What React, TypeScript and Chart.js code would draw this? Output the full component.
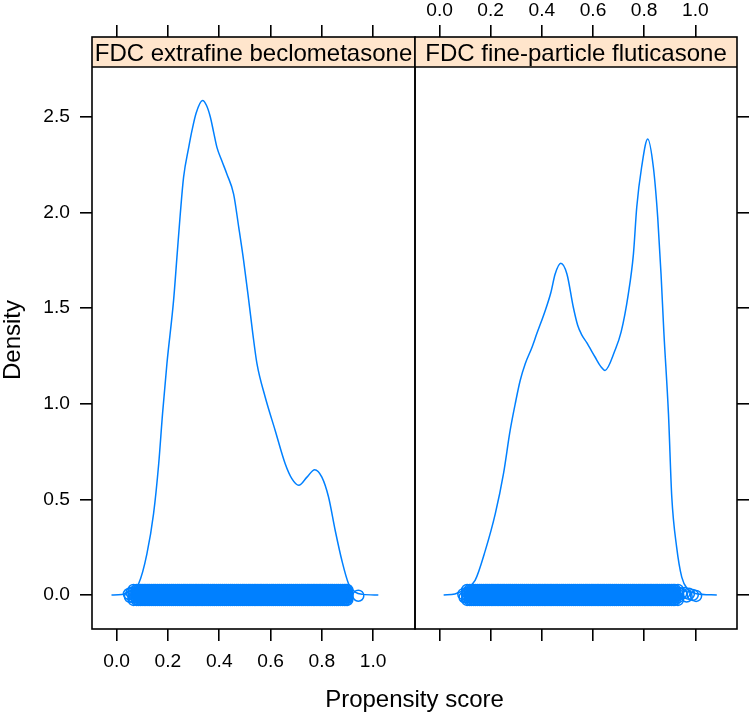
import React, { useEffect, useRef } from 'react';
import { Chart, registerables } from 'chart.js';

Chart.register(...registerables);

// ---------- data ----------
const panelTitles = ['FDC extrafine beclometasone', 'FDC fine-particle fluticasone'];
const xTickValues = [0, 0.2, 0.4, 0.6, 0.8, 1.0];
const yTickValues = [0, 0.5, 1.0, 1.5, 2.0, 2.5];
const xAxisTitle = 'Propensity score';
const yAxisTitle = 'Density';

// density curve, FDC extrafine beclometasone
const becloDensX = [-0.02, 0.02, 0.05, 0.086, 0.118, 0.144, 0.164, 0.179, 0.196, 0.222, 0.235, 0.248, 0.261, 0.281, 0.294, 0.31, 0.335, 0.35, 0.365, 0.378, 0.391, 0.41, 0.43, 0.456, 0.476, 0.495, 0.515, 0.531, 0.547, 0.579, 0.618, 0.657, 0.683, 0.71, 0.742, 0.772, 0.8, 0.826, 0.852, 0.878, 0.904, 0.93, 0.96, 1.02];
const becloDensY = [0.0, 0.002, 0.02, 0.06, 0.215, 0.425, 0.686, 0.948, 1.209, 1.54, 1.765, 1.99, 2.184, 2.34, 2.43, 2.52, 2.585, 2.56, 2.5, 2.42, 2.34, 2.27, 2.2, 2.096, 1.922, 1.748, 1.539, 1.364, 1.209, 1.035, 0.86, 0.686, 0.608, 0.573, 0.616, 0.655, 0.616, 0.512, 0.337, 0.18, 0.059, 0.015, 0.003, 0.0];

// density curve, FDC fine-particle fluticasone
const flutiDensX = [0.016, 0.06, 0.1, 0.139, 0.179, 0.218, 0.25, 0.276, 0.296, 0.315, 0.335, 0.36, 0.38, 0.413, 0.435, 0.452, 0.474, 0.498, 0.523, 0.54, 0.556, 0.575, 0.608, 0.63, 0.647, 0.686, 0.71, 0.738, 0.758, 0.771, 0.79, 0.814, 0.836, 0.853, 0.866, 0.877, 0.895, 0.908, 0.927, 0.947, 0.97, 1.0, 1.084];
const flutiDensY = [0.0, 0.005, 0.03, 0.076, 0.233, 0.425, 0.634, 0.86, 1.0, 1.12, 1.209, 1.29, 1.365, 1.486, 1.58, 1.678, 1.734, 1.678, 1.504, 1.41, 1.36, 1.32, 1.244, 1.195, 1.174, 1.279, 1.375, 1.573, 1.782, 2.027, 2.236, 2.384, 2.236, 1.974, 1.678, 1.375, 0.948, 0.512, 0.25, 0.093, 0.03, 0.008, 0.0];

// observed propensity scores (rug at density 0), dense core
const becloRug = [0.066, 0.078, 0.085, 0.092, 0.099, 0.107, 0.114, 0.122, 0.129, 0.137, 0.145, 0.152, 0.16, 0.168, 0.175, 0.183, 0.191, 0.198, 0.206, 0.214, 0.221, 0.229, 0.237, 0.244, 0.252, 0.26, 0.267, 0.275, 0.283, 0.29, 0.298, 0.306, 0.313, 0.321, 0.329, 0.336, 0.344, 0.352, 0.359, 0.367, 0.375, 0.382, 0.39, 0.398, 0.405, 0.413, 0.421, 0.428, 0.436, 0.444, 0.451, 0.459, 0.467, 0.474, 0.482, 0.49, 0.497, 0.505, 0.513, 0.52, 0.528, 0.536, 0.543, 0.551, 0.559, 0.566, 0.574, 0.582, 0.589, 0.597, 0.605, 0.612, 0.62, 0.628, 0.635, 0.643, 0.651, 0.658, 0.666, 0.674, 0.681, 0.689, 0.697, 0.704, 0.712, 0.72, 0.727, 0.735, 0.743, 0.75, 0.758, 0.766, 0.773, 0.781, 0.789, 0.796, 0.804, 0.812, 0.819, 0.827, 0.835, 0.842, 0.85, 0.858, 0.865, 0.873, 0.881, 0.888, 0.894, 0.899];
const flutiRug = [0.108, 0.118, 0.125, 0.133, 0.14, 0.148, 0.156, 0.163, 0.171, 0.179, 0.186, 0.194, 0.202, 0.209, 0.217, 0.225, 0.232, 0.24, 0.248, 0.255, 0.263, 0.271, 0.278, 0.286, 0.294, 0.301, 0.309, 0.317, 0.324, 0.332, 0.34, 0.347, 0.355, 0.363, 0.37, 0.378, 0.386, 0.393, 0.401, 0.409, 0.416, 0.424, 0.432, 0.439, 0.447, 0.455, 0.462, 0.47, 0.478, 0.485, 0.493, 0.501, 0.508, 0.516, 0.524, 0.531, 0.539, 0.547, 0.554, 0.562, 0.57, 0.577, 0.585, 0.593, 0.6, 0.608, 0.616, 0.623, 0.631, 0.639, 0.646, 0.654, 0.662, 0.669, 0.677, 0.685, 0.692, 0.7, 0.708, 0.715, 0.723, 0.731, 0.738, 0.746, 0.754, 0.761, 0.769, 0.777, 0.784, 0.792, 0.8, 0.807, 0.815, 0.823, 0.83, 0.838, 0.846, 0.853, 0.861, 0.869, 0.876, 0.884, 0.892, 0.899, 0.907, 0.914, 0.92, 0.932];
// jitter of the rug points around 0
const jitterLevels = [-0.026, -0.013, 0, 0.013, 0.026];
// sparse extreme scores, with their jitter
const becloOutX = [0.048, 0.052, 0.058, 0.942];
const becloOutY = [0.005, -0.01, 0.012, -0.004];
const flutiOutX = [0.093, 0.098, 0.945, 0.958, 0.966, 0.975, 0.99, 1.003];
const flutiOutY = [0.004, -0.012, 0.008, 0.01, -0.008, 0.006, 0.0, -0.005];

// ---------- styling ----------
const FONT = "'Liberation Sans', Arial, Helvetica, sans-serif";
const BLUE = '#0080ff';
const STRIP_FILL = '#ffe5cc';
const STRIP_H = 30;
const X_MIN = -0.096;
const X_MAX = 1.163;
const Y_MIN = -0.178;
const Y_MAX = 2.917;

const panels = [
  { title: panelTitles[0], densX: becloDensX, densY: becloDensY, rug: becloRug, outX: becloOutX, outY: becloOutY },
  { title: panelTitles[1], densX: flutiDensX, densY: flutiDensY, rug: flutiRug, outX: flutiOutX, outY: flutiOutY },
];

const tickGrid = {
  display: true,
  drawOnChartArea: false,
  drawTicks: true,
  tickLength: 12,
  color: '#000',
  lineWidth: 1.6,
};

function xScale(position: string, labels: boolean, height: number) {
  return {
    type: 'linear',
    position,
    min: X_MIN,
    max: X_MAX,
    grid: tickGrid,
    border: { display: false },
    ticks: {
      autoSkip: false,
      maxRotation: 0,
      padding: position === 'top' ? 3 : 9,
      color: '#000',
      font: { family: FONT, size: 19.2 },
      callback: (v: number) => (labels ? Number(v).toFixed(1) : ''),
    },
    afterBuildTicks: (s: any) => {
      s.ticks = xTickValues.map((v) => ({ value: v }));
    },
    afterFit: (s: any) => {
      s.height = height;
    },
  };
}

function yScale(position: string, labels: boolean, width: number) {
  return {
    type: 'linear',
    position,
    min: Y_MIN,
    max: Y_MAX,
    grid: tickGrid,
    border: { display: false },
    ticks: {
      autoSkip: false,
      padding: 10,
      color: '#000',
      font: { family: FONT, size: 19.2 },
      callback: (v: number) => (labels ? Number(v).toFixed(1) : ''),
    },
    afterBuildTicks: (s: any) => {
      s.ticks = yTickValues.map((v) => ({ value: v }));
    },
    afterFit: (s: any) => {
      s.width = width;
    },
  };
}

function stripPlugin(title: string) {
  return {
    id: 'stripFrame',
    beforeDatasetsDraw(chart: any) {
      const { ctx, chartArea: a } = chart;
      ctx.save();
      ctx.fillStyle = STRIP_FILL;
      ctx.fillRect(a.left, a.top, a.right - a.left, STRIP_H);
      ctx.restore();
    },
    afterDraw(chart: any) {
      const { ctx, chartArea: a } = chart;
      ctx.save();
      ctx.strokeStyle = '#000';
      ctx.lineWidth = 1.6;
      ctx.strokeRect(a.left, a.top, a.right - a.left, a.bottom - a.top);
      ctx.beginPath();
      ctx.moveTo(a.left, a.top + STRIP_H);
      ctx.lineTo(a.right, a.top + STRIP_H);
      ctx.stroke();
      ctx.fillStyle = '#000';
      ctx.font = `24px ${FONT}`;
      ctx.textAlign = 'center';
      ctx.textBaseline = 'alphabetic';
      ctx.fillText(title, (a.left + a.right) / 2, a.top + 24);
      ctx.restore();
    },
  };
}

const titlesPlugin = {
  id: 'axisTitles',
  afterDraw(chart: any) {
    const { ctx } = chart;
    ctx.save();
    ctx.fillStyle = '#000';
    ctx.font = `24px ${FONT}`;
    ctx.textAlign = 'center';
    ctx.textBaseline = 'alphabetic';
    ctx.fillText(xAxisTitle, 414.5, 707);
    ctx.translate(20, 340);
    ctx.rotate(-Math.PI / 2);
    ctx.fillText(yAxisTitle, 0, 0);
    ctx.restore();
  },
};

function buildConfig(i: number): any {
  const p = panels[i];
  const datasets: any[] = [];
  datasets.push({
    data: p.densX.map((x, k) => ({ x, y: p.densY[k] })),
    showLine: true,
    borderColor: BLUE,
    borderWidth: 1.5,
    pointRadius: 0,
    cubicInterpolationMode: 'monotone',
    fill: false,
  });
  jitterLevels.forEach((j) => {
    datasets.push({
      data: p.rug.map((x) => ({ x, y: j })),
      showLine: false,
      pointStyle: 'circle',
      pointRadius: 5.5,
      pointBorderWidth: 1.5,
      pointBorderColor: BLUE,
      pointBackgroundColor: 'rgba(0,0,0,0)',
    });
  });
  datasets.push({
    data: p.outX.map((x, k) => ({ x, y: p.outY[k] })),
    showLine: false,
    pointStyle: 'circle',
    pointRadius: 5.5,
    pointBorderWidth: 1.5,
    pointBorderColor: BLUE,
    pointBackgroundColor: 'rgba(0,0,0,0)',
  });

  const scales =
    i === 0
      ? { x: xScale('bottom', true, 85), xTop: xScale('top', false, 37), y: yScale('left', true, 92) }
      : { x: xScale('bottom', false, 85), xTop: xScale('top', true, 37), y: yScale('right', false, 13) };

  return {
    type: 'scatter',
    data: { datasets },
    options: {
      animation: false,
      responsive: false,
      maintainAspectRatio: false,
      events: [],
      layout: {
        padding: i === 0 ? { left: 0, right: 335, top: 0, bottom: 0 } : { left: 415, right: 0, top: 0, bottom: 0 },
      },
      plugins: { legend: { display: false }, tooltip: { enabled: false } },
      scales,
    },
    plugins: i === 0 ? [stripPlugin(p.title), titlesPlugin] : [stripPlugin(p.title)],
  };
}

function Panel({ index }: { index: number }) {
  const ref = useRef<HTMLCanvasElement | null>(null);
  useEffect(() => {
    if (!ref.current) return;
    const chart = new Chart(ref.current, buildConfig(index));
    return () => chart.destroy();
  }, [index]);
  return (
    <canvas
      ref={ref}
      width={750}
      height={714}
      style={{ position: 'absolute', left: 0, top: 0, width: 750, height: 714 }}
    />
  );
}

export default function App() {
  return (
    <div style={{ position: 'absolute', left: 0, top: 0, width: 750, height: 714, background: '#fff' }}>
      <Panel index={0} />
      <Panel index={1} />
    </div>
  );
}
